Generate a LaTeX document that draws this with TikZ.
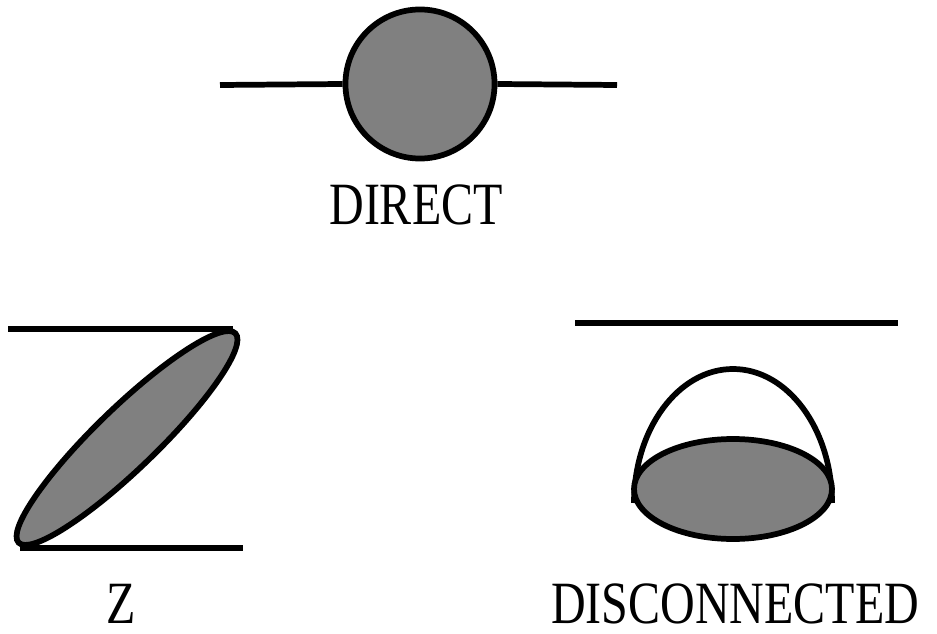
\documentclass[tikz,border=0pt]{standalone}
\usepackage{fontspec}
\newfontfamily\lblfont[FakeStretch=0.8]{Liberation Serif}
\begin{document}
\begin{tikzpicture}[x=0.75pt,y=-0.75pt,
  thick line/.style={line width=4.3pt},
  shade fill/.style={fill=black!50},
  lbl/.style={font=\lblfont\fontsize{45pt}{50pt}\selectfont, inner sep=0pt, anchor=base}]
\useasboundingbox (0,0) rectangle (937,634);
% DIRECT
\coordinate (dl) at (220,85);
\coordinate (dr) at (617,85);
\node[circle, thick line, draw, shade fill, minimum size=111.8pt, inner sep=0pt] (dc) at (420,84) {};
\draw[thick line] (dl) -- (dc.west);
\draw[thick line] (dc.east) -- (dr);
\node[lbl] (tdirect) at (416,225) {DIRECT};
% Z
\coordinate (zt1) at (8,329);
\coordinate (zt2) at (233,329);
\coordinate (zb1) at (20,548);
\coordinate (zb2) at (243,548);
\draw[thick line] (zt1) -- (zt2);
\draw[thick line] (zb1) -- (zb2);
\coordinate (ze) at (127,438);
\draw[thick line, shade fill, rotate around={44:(ze)}] (ze) ellipse [x radius=113pt, y radius=23pt];
\node[lbl] (tz) at (121.5,623) {Z};
% DISCONNECTED
\coordinate (dt1) at (575,323);
\coordinate (dt2) at (898,323);
\draw[thick line] (dt1) -- (dt2);
\coordinate (dome) at (634,503);
\draw[thick line] (dome) arc[start angle=180, end angle=0, x radius=74.25pt, y radius=100.5pt];
\coordinate (de) at (733,489);
\draw[thick line, shade fill] (de) ellipse [x radius=74.25pt, y radius=37.5pt];
\node[lbl] (tdis) at (735,623) {DISCONNECTED};
\end{tikzpicture}
\end{document}
